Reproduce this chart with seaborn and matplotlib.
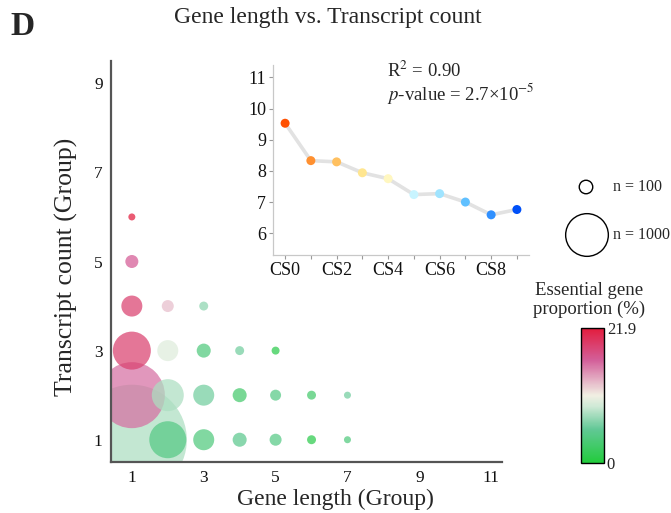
import numpy as np
import pandas as pd
import matplotlib
matplotlib.use("Agg")
import matplotlib.pyplot as plt
import seaborn as sns
from matplotlib.colors import LinearSegmentedColormap, Normalize
from matplotlib.cm import ScalarMappable

# ---- bubble data: gene-length group x transcript-count group ----
gene_length_group = [1, 1, 1, 2, 3, 1, 2, 3, 4, 5, 1, 2, 3, 4, 5, 6, 7, 1, 2, 3, 4, 5, 6, 7]
transcript_group  = [6, 5, 4, 4, 4, 3, 3, 3, 3, 3, 2, 2, 2, 2, 2, 2, 2, 1, 1, 1, 1, 1, 1, 1]
gene_count        = [27, 93, 242, 79, 44, 792, 242, 108, 44, 35,
                     2390, 562, 242, 108, 66, 44, 27,
                     6640, 751, 242, 108, 79, 44, 27]
essential_pct     = [21.9, 17.0, 19.0, 13.0, 7.0, 19.0, 10.0, 4.0, 6.0, 1.0,
                     16.0, 8.0, 6.0, 3.0, 4.5, 3.0, 6.0,
                     8.0, 4.5, 4.0, 5.0, 4.5, 1.0, 4.0]

# ---- inset data: mean transcript count per conservation score ----
cs_labels = ["CS0", "CS1", "CS2", "CS3", "CS4", "CS5", "CS6", "CS7", "CS8", "CS9"]
cs_values = [9.53, 8.33, 8.29, 7.94, 7.75, 7.24, 7.27, 7.00, 6.59, 6.76]
cs_colors = ["#ff5000", "#ff9030", "#ffc060", "#ffe690", "#fff7c0",
             "#c8f4ff", "#a0e4ff", "#60c0ff", "#3090ff", "#0050f8"]

legend_counts = [100, 1000]
pct_max = 21.9

sns.set_theme(style="white")
plt.rcParams["font.family"] = ["Liberation Serif", "DejaVu Serif"]
plt.rcParams["mathtext.fontset"] = "stix"

cmap = LinearSegmentedColormap.from_list(
    "ess",
    [(0.00, "#22cc3c"), (0.25, "#62c896"), (0.42, "#cfe9d6"), (0.50, "#f1efe3"),
     (0.60, "#e6b9c9"), (0.76, "#d3609a"), (1.00, "#e31c3d")])

SIZE_PER_GENE = 0.945  # marker area (pt^2) per gene

df = pd.DataFrame({"length": gene_length_group, "transcripts": transcript_group,
                   "n": gene_count, "pct": essential_pct})
df = df.sort_values("n", ascending=False)

fig = plt.figure(figsize=(6.71, 5.13), dpi=100)
ax = fig.add_axes([111 / 671, 1 - 462 / 513, (502 - 111) / 671, (462 - 61) / 513])

nmin, nmax = min(gene_count), max(gene_count)
sns.scatterplot(data=df, x="length", y="transcripts", hue="pct", size="n",
                palette=cmap, hue_norm=(0, pct_max),
                sizes=(SIZE_PER_GENE * nmin, SIZE_PER_GENE * nmax), size_norm=(nmin, nmax),
                alpha=0.72, linewidth=0, legend=False, ax=ax)

ax.set_xlim(0.42, 11.3)
ax.set_ylim(0.5, 9.5)
ax.set_xticks([1, 3, 5, 7, 9, 11])
ax.set_yticks([1, 3, 5, 7, 9])
ax.tick_params(length=0, labelsize=12.5, pad=6, colors="#111111")
for side in ["top", "right"]:
    ax.spines[side].set_visible(False)
for side in ["left", "bottom"]:
    ax.spines[side].set_color("#555555")
    ax.spines[side].set_linewidth(1.6)
ax.set_xlabel("Gene length (Group)", fontsize=17)
ax.set_ylabel("Transcript count (Group)", fontsize=18.5)
ax.xaxis.set_label_coords(0.573, -0.066)
ax.yaxis.set_label_coords(-0.084, 0.487)

# ---- inset line chart ----
axi = fig.add_axes([273 / 671, 1 - 255 / 513, (529 - 273) / 671, (255 - 65) / 513])
axi.patch.set_alpha(0)
xpos = np.arange(len(cs_labels))
idf = pd.DataFrame({"x": xpos, "y": cs_values, "cs": cs_labels})
sns.lineplot(data=idf, x="x", y="y", color="#e2e2e2", linewidth=2.6, ax=axi, zorder=1)
sns.scatterplot(data=idf, x="x", y="y", hue="cs", palette=cs_colors, s=42,
                linewidth=0, legend=False, ax=axi, zorder=2)
axi.set_xlim(-0.47, 9.47)
axi.set_ylim(5.3, 11.4)
axi.set_xticks(xpos)
axi.set_xticklabels([lab if i % 2 == 0 else "" for i, lab in enumerate(cs_labels)])
axi.set_yticks([6, 7, 8, 9, 10, 11])
axi.tick_params(length=3, width=0.8, color="#999999", labelsize=13, pad=2,
                labelcolor="#111111", bottom=True, left=True)
axi.set_xlabel("")
axi.set_ylabel("")
for side in ["top", "right"]:
    axi.spines[side].set_visible(False)
for side in ["left", "bottom"]:
    axi.spines[side].set_color("#c8c8c8")
    axi.spines[side].set_linewidth(0.9)

fig.text(387 / 671, 1 - 71 / 513, r"R$^2$ = 0.90", fontsize=13.5, va="center", ha="left")
fig.text(387 / 671, 1 - 94 / 513, r"$p$-value = 2.7×10$^{-5}$", fontsize=13.5,
         va="center", ha="left")

# ---- size legend ----
axl = fig.add_axes([560 / 671, 1 - 265 / 513, 50 / 671, 100 / 513])
axl.set_xlim(0, 50)
axl.set_ylim(100, 0)
axl.axis("off")
axl.scatter([26, 27], [22, 70], s=[SIZE_PER_GENE * c for c in legend_counts],
            facecolor="white", edgecolor="black", linewidth=1.0, clip_on=False)
for c, ypx in zip(legend_counts, [187, 235]):
    fig.text(613 / 671, 1 - ypx / 513, f"n = {c}", fontsize=11.5, va="center", ha="left")

# ---- colour bar ----
fig.text(589 / 671, 1 - 300 / 513, "Essential gene\nproportion (%)", fontsize=13.5,
         ha="center", va="center", linespacing=1.2)
cax = fig.add_axes([581 / 671, 1 - 463 / 513, 23 / 671, 135 / 513])
cb = fig.colorbar(ScalarMappable(norm=Normalize(0, pct_max), cmap=cmap), cax=cax)
cb.set_ticks([0, pct_max])
cb.set_ticklabels(["0", "21.9"])
cb.ax.tick_params(length=0, labelsize=12, pad=2)
cb.outline.set_edgecolor("black")
cb.outline.set_linewidth(1.0)

fig.text(328 / 671, 1 - 18 / 513, "Gene length vs. Transcript count", fontsize=17,
         ha="center", va="center")
fig.text(10 / 671, 1 - 27 / 513, "D", fontsize=24, fontweight="bold", ha="left", va="center")

fig.savefig("out.png", dpi=100)
